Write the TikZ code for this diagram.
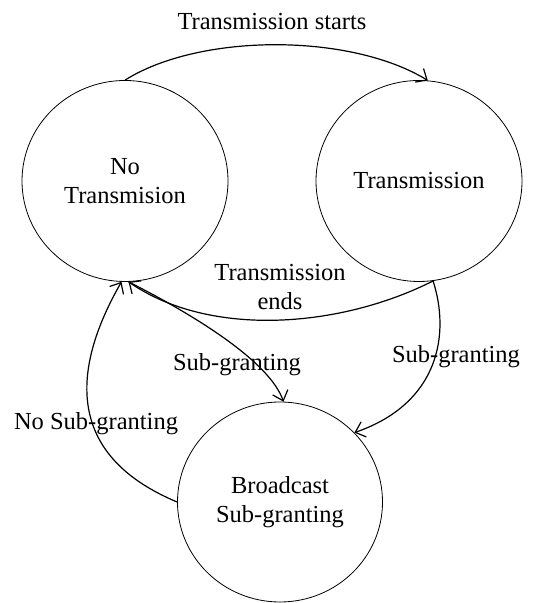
\documentclass[tikz,border=0pt]{standalone}
\usepackage{fontspec}
\setmainfont{Liberation Serif}
\usetikzlibrary{shapes.geometric,arrows.meta}

\begin{document}
\begin{tikzpicture}[x=0.5pt, y=0.5pt, font=\fontsize{12.25}{14.5}\selectfont,
    state/.style={ellipse, draw=black, thin, minimum width=103pt, minimum height=100.5pt, align=center, inner sep=0pt},
    edge/.style={->, draw=black, semithick},
    >={Straight Barb[length=4.5pt, width=8pt]}]
    \useasboundingbox (0,0) rectangle (542,603);

    \node[state] (nt) at (125, 422) {No\\Transmision};
    \node[state] (tr) at (419, 422) {Transmission};
    \node[state, minimum width=102.5pt, minimum height=100pt] (bc) at (280, 101) {Broadcast\\Sub-granting};

    \node (lstart) at (272, 581) {Transmission starts};
    \node[align=center] (lends) at (280, 316) {Transmission\\ends};
    \node (lsubmid) at (237, 238) {Sub-granting};
    \node (lsubright) at (456, 246) {Sub-granting};
    \node (lnosub) at (96, 179) {No Sub-granting};

    \draw[edge] (nt.north) .. controls (200, 570) and (350, 570) .. (tr.85);
    \draw[edge] (tr.278) .. controls (340, 275) and (210, 265) .. (nt.272);
    \draw[edge] (nt.272) .. controls (200, 285) and (270, 240) .. (bc.88);
    \draw[edge] (tr.278) .. controls (450, 270) and (440, 200) .. (bc.43);
    \draw[edge] (bc.west) .. controls (60, 150) and (75, 240) .. (nt.268);
\end{tikzpicture}
\end{document}
